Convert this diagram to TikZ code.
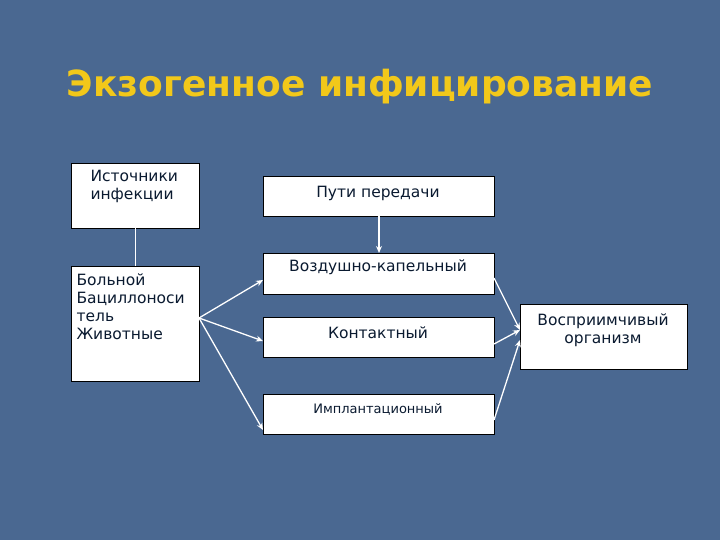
\documentclass[tikz,border=0pt]{standalone}
\usepackage{fontspec}
\setmainfont{DejaVu Sans}
\usetikzlibrary{arrows.meta}
\definecolor{bg}{HTML}{4A6891}
\definecolor{ttl}{HTML}{F2C81A}
\definecolor{txt}{HTML}{0A1A30}
\begin{document}
\begin{tikzpicture}[x=1pt,y=-1pt,
  box/.style={draw=black,fill=white,line width=0.6pt},
  lbl/.style={text=txt,font=\fontsize{15.5}{18}\selectfont,align=center},
  arr/.style={draw=white,line width=1.3pt,-{Stealth[length=7pt,width=6pt]}}]
\fill[bg] (0,0) rectangle (720,540);
\useasboundingbox (0,0) rectangle (720,540);
\node (title)[text=ttl,font=\bfseries\fontsize{36}{40}\selectfont] at (360,87) {Экзогенное инфицирование};
% boxes
\draw[box] (71,163) rectangle (199,228);
\node (src) [lbl,align=left,anchor=north west] at (87,167) {Источники\\инфекции};
\draw[box] (71,266) rectangle (199,381);
\node (pat) [lbl,align=left,anchor=north west] at (73,270) {Больной\\Бациллоноси\\тель\\Животные};
\draw[box] (263,176) rectangle (494,216);
\node (way) [lbl] at (378,193) {Пути передачи};
\draw[box] (263,253) rectangle (494,294);
\node (air) [lbl] at (378,267) {Воздушно-капельный};
\draw[box] (263,317) rectangle (494,357);
\node (con) [lbl] at (378,333) {Контактный};
\draw[box] (263,394) rectangle (494,434);
\node (imp) [lbl,font=\fontsize{13}{15}\selectfont] at (378,409) {Имплантационный};
\draw[box] (520,304) rectangle (687,369);
\node (org) [lbl] at (603,330) {Восприимчивый\\организм};
\coordinate (s1) at (135,228); \coordinate (s2) at (135,266);
\draw[white,line width=1pt] (s1) -- (s2);
\coordinate (w1) at (379,216); \coordinate (w2) at (379,253);
\draw[arr] (w1) -- (w2);
\coordinate (p) at (199,318);
\coordinate (a1) at (263,280); \coordinate (c1) at (263,341); \coordinate (i1) at (263,430);
\draw[arr] (p) -- (a1); \draw[arr] (p) -- (c1); \draw[arr] (p) -- (i1);
\coordinate (a2) at (494,278); \coordinate (c2) at (494,344); \coordinate (i2) at (494,420);
\coordinate (o1) at (520,330); \coordinate (o2) at (520,340);
\draw[arr] (a2) -- (o1); \draw[arr] (c2) -- (o1); \draw[arr] (i2) -- (o2);
\end{tikzpicture}
\end{document}
